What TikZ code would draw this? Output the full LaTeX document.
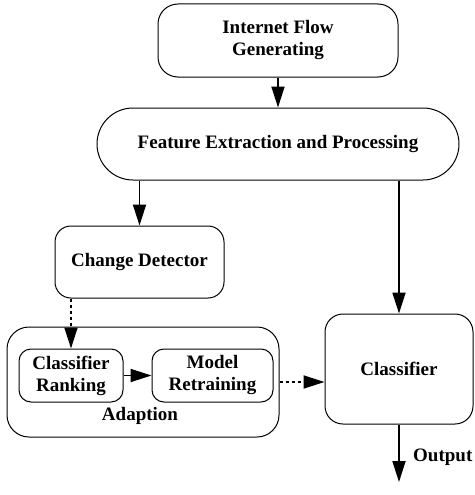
\documentclass[tikz,border=0pt]{standalone}
\usepackage{fontspec}
\setmainfont{Liberation Serif}
\usepackage{tikz}
\usetikzlibrary{arrows.meta}

\tikzset{
	blk/.style={draw, line width=1pt, rounded corners=#1, align=center, inner sep=0pt, font=\bfseries\fontsize{19}{22}\selectfont},
	blk/.default=18pt,
	flow/.style={line width=1.8pt, -{Triangle[length=21pt, width=13pt]}},
	dflow/.style={flow, dash pattern=on 3pt off 3pt}
}

\begin{document}
\begin{tikzpicture}[x=1pt, y=-1pt]
		\useasboundingbox (0,0) rectangle (474,495);
		
		\node[blk=20pt, minimum width=240pt, minimum height=73pt] (gen) at (278,40.5) {Internet Flow\\Generating};
		\node[blk=36pt, minimum width=362pt, minimum height=72pt] (feat) at (278,144) {Feature Extraction and Processing};
		\node[blk=16pt, minimum width=169pt, minimum height=72pt] (chg) at (139.5,262) {Change Detector};
		\node[blk=22pt, minimum width=272pt, minimum height=110pt] (adapt) at (143,382) {};
		\node[blk=12pt, minimum width=104pt, minimum height=53pt] (rank) at (71,375.5) {Classifier\\Ranking};
		\node[blk=12pt, minimum width=121pt, minimum height=53pt] (retrain) at (212.5,375.5) {Model\\Retraining};
		\node[font=\bfseries\fontsize{19}{22}\selectfont, inner sep=0pt] (adlabel) at (140,416) {Adaption};
		\node[blk=18pt, minimum width=148pt, minimum height=110pt] (cls) at (399,369) {Classifier};
		\coordinate (out) at (399,482);
		\node[font=\bfseries\fontsize{19}{22}\selectfont, inner sep=0pt, anchor=west] (outlabel) at (413,457) {Output};
		
		\draw[flow] (gen) -- (feat);
		\draw[flow] (feat.south -| chg.north) -- (chg.north);
		\draw[flow] (feat.south -| cls.north) -- (cls.north);
		\draw[dflow] (chg.south -| rank.north) -- (rank.north);
		\draw[flow] (rank) -- (retrain);
		\draw[dflow] (adapt.east) -- (adapt.east -| cls.west);
		\draw[flow] (cls) -- (out);
	\end{tikzpicture}
\end{document}
